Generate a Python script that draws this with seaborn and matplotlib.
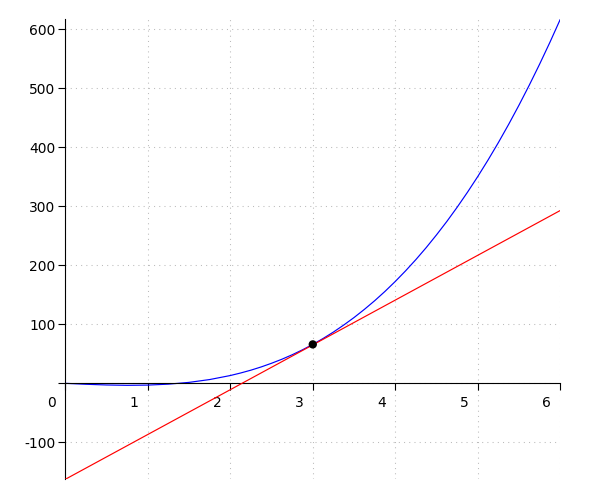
import matplotlib
matplotlib.use("Agg")
import matplotlib.pyplot as plt
from matplotlib.transforms import ScaledTranslation
import seaborn as sns

# values
curve_x = [0, 0.25, 0.5, 0.75, 1.0, 1.25, 1.5, 1.75, 2.0, 2.125, 2.25, 2.375, 2.5,
           2.625, 2.75, 2.875, 3.0, 3.125, 3.25, 3.375, 3.5, 3.625, 3.75, 3.875,
           4.0, 4.125, 4.25, 4.375, 4.5, 4.625, 4.75, 4.875, 5.0, 5.125, 5.25,
           5.375, 5.5, 5.625, 5.75, 5.875, 6.0]
curve_y = [0.0, -1.6, -2.8, -3.4, -3.0, -1.4, 1.6, 6.4, 13.2, 17.5, 22.3, 27.8, 34.0,
           40.8, 48.4, 56.8, 66.0, 76.0, 86.9, 98.8, 111.5, 125.3, 140.0, 155.8,
           172.7, 190.7, 209.8, 230.1, 251.7, 274.4, 298.5, 323.9, 350.6, 378.7, 408.2,
           439.2, 471.7, 505.7, 541.2, 578.3, 617.1]
tangent_x = [0, 6]
tangent_y = [-162.7, 293.0]
point_x = [3]
point_y = [66.0]

x_ticks = [0, 1, 2, 3, 4, 5, 6]
x_labels = ["0", "1", "2", "3", "4", "5", "6"]
y_ticks = [-100, 0, 100, 200, 300, 400, 500, 600]
y_labels = ["-100", "", "100", "200", "300", "400", "500", "600"]

sns.set_style("white")
plt.rcParams['font.family'] = ['DejaVu Sans']

fig = plt.figure(figsize=(6, 5), dpi=100)
ax = fig.add_axes([0.1088, 0.0414, 0.825, 0.92])

sns.lineplot(x=curve_x, y=curve_y, color="blue", linewidth=0.85, ax=ax, zorder=2)
sns.lineplot(x=tangent_x, y=tangent_y, color="red", linewidth=0.85, ax=ax, zorder=3)
sns.scatterplot(x=point_x, y=point_y, color="black", s=36, edgecolor="none", ax=ax, zorder=4)

ax.set_xlim(0, 6)
ax.set_ylim(-162.7, 617.1)

# axes through the origin, sage style
ax.spines['top'].set_visible(False)
ax.spines['right'].set_visible(False)
ax.spines['bottom'].set_position(('data', 0))
for s in ['left', 'bottom']:
    ax.spines[s].set_color('black')
    ax.spines[s].set_linewidth(0.8)

ax.set_xticks(x_ticks)
ax.set_xticklabels(x_labels)
ax.set_yticks(y_ticks)
ax.set_yticklabels(y_labels)
ax.tick_params(axis='x', direction='out', length=5, width=0.8, pad=4, labelsize=10,
               colors='black', bottom=True)
ax.tick_params(axis='y', direction='out', length=5, width=0.8, pad=2, labelsize=10,
               colors='black', left=True)

# x labels sit to the left of their ticks
shift = ScaledTranslation(-0.09, 0, fig.dpi_scale_trans)
for lab in ax.get_xticklabels():
    lab.set_horizontalalignment('right')
    lab.set_transform(lab.get_transform() + shift)

ax.grid(True, color="#bbbbbb", linestyle=(0, (1, 4)), linewidth=0.75)
ax.set_axisbelow(True)

fig.savefig("out.png", dpi=100)
